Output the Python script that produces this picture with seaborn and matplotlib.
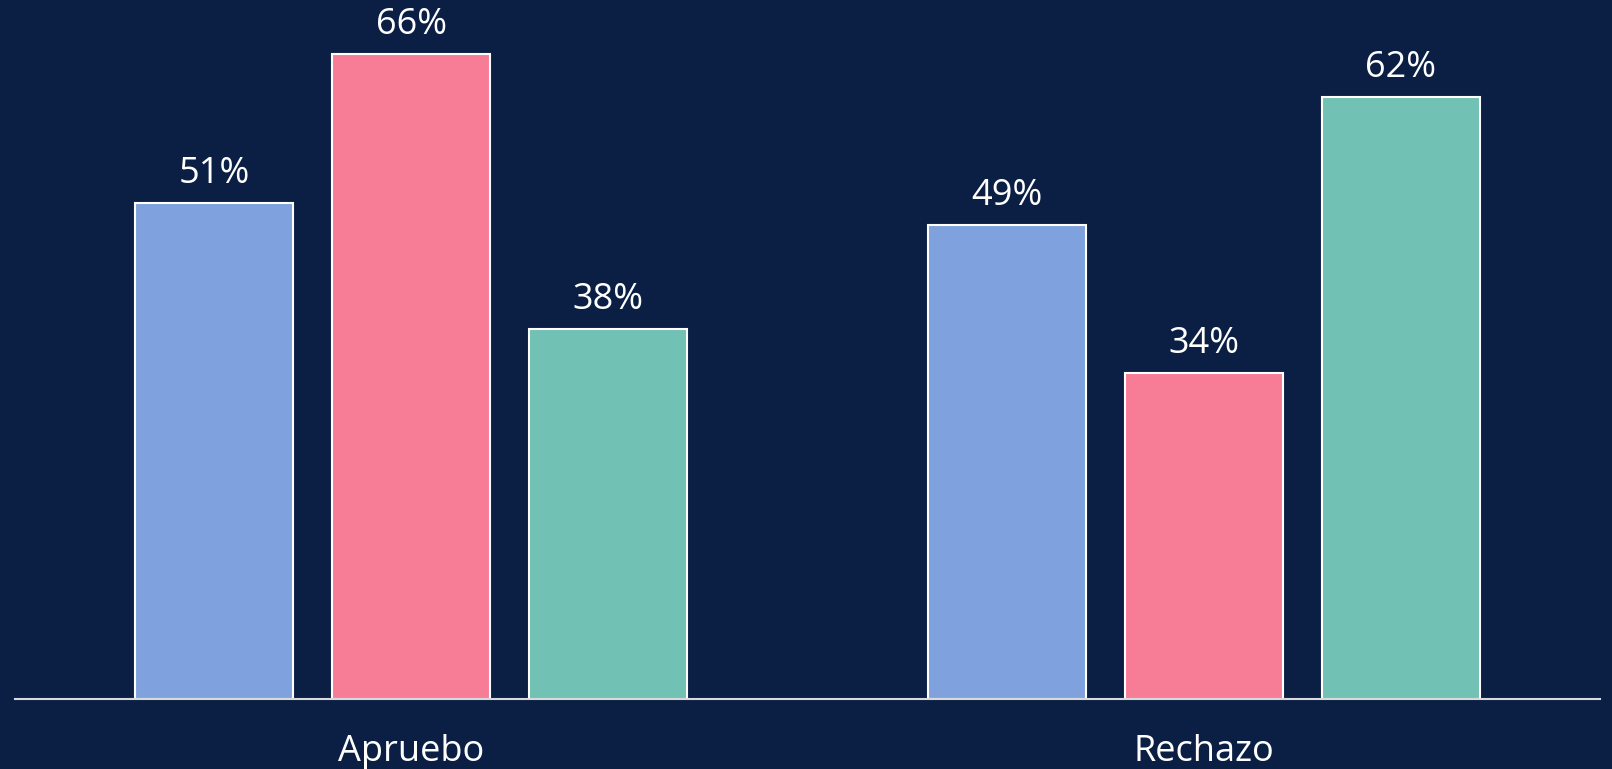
import pandas as pd
import seaborn as sns
import matplotlib.pyplot as plt

opciones = ["Apruebo", "Rechazo"]
series = ["Serie 1", "Serie 2", "Serie 3"]
serie_1 = [50.8, 48.5]
serie_2 = [66.0, 33.4]
serie_3 = [37.9, 61.6]
etiquetas = {
    "Serie 1": ["51%", "49%"],
    "Serie 2": ["66%", "34%"],
    "Serie 3": ["38%", "62%"],
}
colores = ["#7FA2DE", "#F77D96", "#71C1B4"]
fondo = "#0B1F45"

df = pd.DataFrame({
    "opcion": opciones * 3,
    "serie": [s for s in series for _ in opciones],
    "valor": serie_1 + serie_2 + serie_3,
})

sns.set_theme(style="white")
plt.rcParams["font.family"] = ["Open Sans", "DejaVu Sans"]

fig = plt.figure(figsize=(16.12, 7.69), dpi=100, facecolor=fondo)
ax = fig.add_axes([15 / 1612, 70 / 769, 1585 / 1612, 699 / 769])
ax.set_facecolor(fondo)

sns.barplot(data=df, x="opcion", y="valor", hue="serie", palette=colores,
            saturation=1, width=0.746, gap=0.2, edgecolor="white",
            linewidth=1.5, legend=False, ax=ax)

for cont, s in zip(ax.containers, series):
    ax.bar_label(cont, labels=etiquetas[s], padding=8,
                 color="white", fontsize=26)

ax.set_xlim(-0.5, 1.5)
ax.set_ylim(0, 71.55)
ax.set_xlabel("")
ax.set_ylabel("")
ax.set_yticks([])
ax.tick_params(axis="x", length=0, pad=25, labelsize=26, labelcolor="white")
for lado in ["top", "right", "left"]:
    ax.spines[lado].set_visible(False)
ax.spines["bottom"].set_color("#D9D9D9")
ax.spines["bottom"].set_linewidth(1.5)

fig.savefig("out.png", dpi=100, facecolor=fondo)
